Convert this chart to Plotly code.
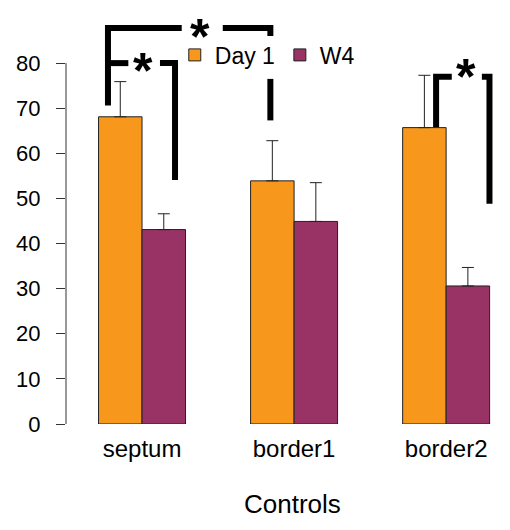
import plotly.graph_objects as go

# ---------------- data ----------------
categories = ["septum", "border1", "border2"]
series_names = ["Day 1", "W4"]
day1_values = [68.1, 53.9, 65.7]
day1_errors = [7.8, 8.9, 11.6]
w4_values = [43.1, 44.9, 30.6]
w4_errors = [3.5, 8.6, 4.1]
y_tick_values = [0, 10, 20, 30, 40, 50, 60, 70, 80]
x_axis_title = "Controls"

# significance brackets: polylines in (category index, value) units
bracket_lines = [
    [(-0.224, 70.6), (-0.224, 87.8), (0.261, 87.8)],
    [(0.531, 87.8), (0.844, 87.8), (0.844, 86.0)],
    [(0.844, 76.5), (0.844, 67.3)],
    [(-0.224, 80.0), (-0.09, 80.0)],
    [(0.118, 80.0), (0.217, 80.0), (0.217, 54.1)],
    [(1.934, 65.8), (1.934, 77.0), (2.037, 77.0)],
    [(2.235, 77.0), (2.285, 77.0), (2.285, 48.8)],
]
star_positions = [(0.382, 87.4), (0.007, 79.8), (2.13, 78.4)]

# ---------------- styling ----------------
ORANGE = "#F7981D"
PURPLE = "#993366"
EDGE = "#222222"
AXIS = "#333333"
FONT = "Liberation Sans, Arial, Helvetica, sans-serif"

fig = go.Figure()
fig.add_trace(go.Bar(
    name=series_names[0], x=categories, y=day1_values,
    marker=dict(color=ORANGE, line=dict(color=EDGE, width=1)),
    error_y=dict(type="data", array=day1_errors, arrayminus=[0] * len(day1_errors),
                 symmetric=False, color=EDGE, thickness=1, width=6),
))
fig.add_trace(go.Bar(
    name=series_names[1], x=categories, y=w4_values,
    marker=dict(color=PURPLE, line=dict(color=EDGE, width=1)),
    error_y=dict(type="data", array=w4_errors, arrayminus=[0] * len(w4_errors),
                 symmetric=False, color=EDGE, thickness=1, width=6),
))

shapes = []
# y axis line only spanning the tick range (R style)
shapes.append(dict(type="line", xref="paper", yref="y", x0=0, x1=0,
                   y0=y_tick_values[0], y1=y_tick_values[-1],
                   line=dict(color=AXIS, width=1)))
for pts in bracket_lines:
    path = "M" + " L".join(f"{x},{y}" for x, y in pts)
    shapes.append(dict(type="path", xref="x", yref="y", path=path,
                       line=dict(color="black", width=6)))

annotations = []
for sx, sy in star_positions:
    annotations.append(dict(x=sx, y=sy, xref="x", yref="y", text="<b>*</b>",
                            showarrow=False, yshift=-7,
                            font=dict(family=FONT, size=50, color="black")))
annotations.append(dict(x=0.99, y=-0.197, xref="x", yref="paper", text=x_axis_title,
                        showarrow=False, yanchor="middle",
                        font=dict(family=FONT, size=26, color="black")))

fig.update_layout(
    width=510, height=530,
    margin=dict(l=58, r=8, t=10, b=114),
    paper_bgcolor="white", plot_bgcolor="white",
    barmode="group", bargap=0.428, bargroupgap=0,
    font=dict(family=FONT, color="black"),
    showlegend=True,
    legend=dict(orientation="h", x=0.245, xanchor="left", y=0.909, yanchor="middle",
                bgcolor="rgba(0,0,0,0)", font=dict(size=23, family=FONT),
                itemclick=False, traceorder="normal"),
    xaxis=dict(type="category", range=[-0.5, 2.42], showline=False, showgrid=False,
               zeroline=False, ticks="", tickfont=dict(size=24), ticklabelstandoff=8),
    yaxis=dict(range=[0, 90], tickvals=y_tick_values, showline=False, showgrid=False,
               zeroline=False, ticks="outside", ticklen=9, tickwidth=1, tickcolor=AXIS,
               tickfont=dict(size=22), ticklabelstandoff=11),
    shapes=shapes,
    annotations=annotations,
)

fig.write_html("out.html")
